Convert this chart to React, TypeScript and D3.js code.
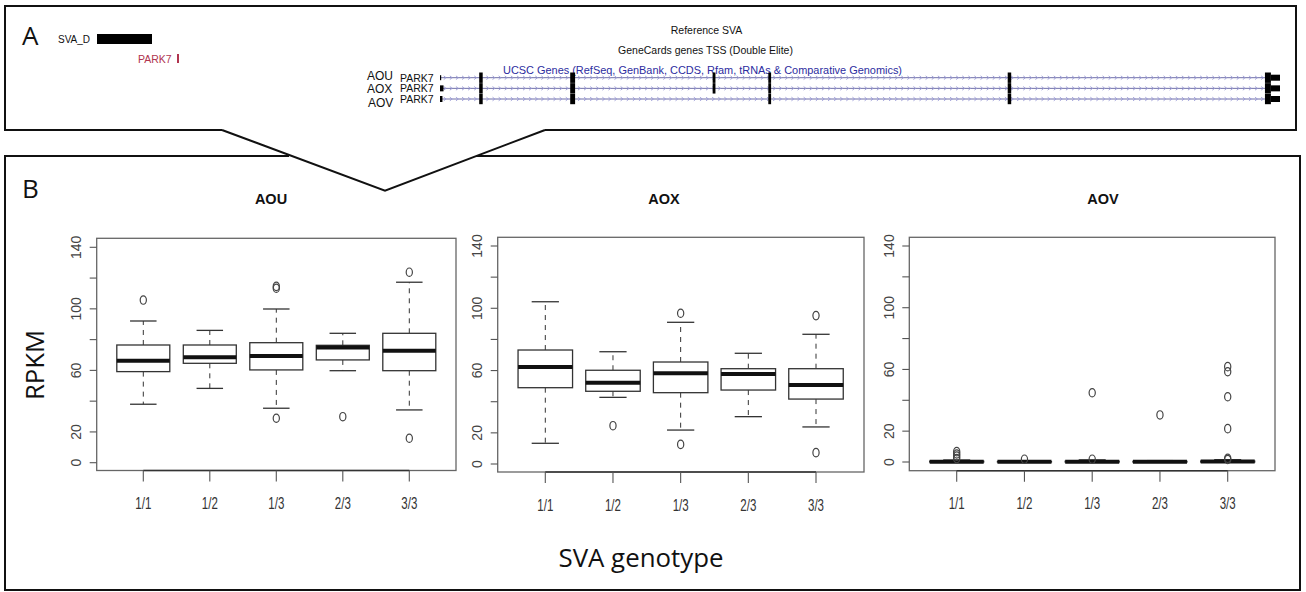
import React from "react";
import * as d3 from "d3";

// ---------- Data ----------
const genotypes = ["1/1", "1/2", "1/3", "2/3", "3/3"];
const yTickValues = [0, 20, 40, 60, 80, 100, 120, 140];
const yTickLabels = ["0", "20", "", "60", "", "100", "", "140"];
const panelNames = ["AOU", "AOX", "AOV"];

// [lower whisker, Q1, median, Q3, upper whisker]
const aouStats = [
  [38, 59.2, 66.3, 76.5, 92.1],
  [48.3, 64.6, 68.5, 76.5, 86],
  [35.4, 60.3, 69.4, 78, 99.9],
  [59.8, 66.8, 74.8, 76.3, 84.1],
  [34.3, 59.8, 72.8, 84.1, 117.3],
];
const aouOutliers = [[105.7], [], [113.4, 114.6, 28.9], [29.9], [123.8, 15.9]];

const aoxStats = [
  [13.3, 49, 62.3, 73.2, 104.2],
  [42.8, 46.7, 52.2, 60.2, 72.1],
  [21.8, 45.8, 58.2, 65.5, 91],
  [30.4, 47.5, 57.8, 61.2, 71.1],
  [23.8, 41.7, 50.7, 61.2, 83.3],
];
const aoxOutliers = [[], [24.6], [96.8, 12.6], [], [95.3, 7.3]];

const aovStats = [
  [0, 0, 0.2, 0.5, 1.3],
  [0, 0, 0.1, 0.3, 0.6],
  [0, 0, 0.2, 0.5, 1.4],
  [0, 0, 0.2, 0.4, 0.9],
  [0, 0, 0.3, 0.6, 1.5],
];
const aovOutliers = [
  [6.7, 5.2, 3.8, 2.2],
  [1.8],
  [44.9, 1.8],
  [30.5],
  [61.8, 58.5, 42.3, 21.6, 2.4, 1.6],
];

// Gene track (positions in kb along PARK7)
const geneLengthKb = 24;
const transcriptNames = ["AOU", "AOX", "AOV"];
// [startKb, endKb, kind]
const aouExons = [[0, 0.03, 2], [1.12, 1.22, 1], [3.72, 3.86, 1], [7.79, 7.87, 1], [9.38, 9.46, 1], [16.22, 16.32, 1], [23.57, 23.74, 1], [23.74, 24, 0]];
const aoxExons = [[0, 0.1, 0], [1.12, 1.22, 1], [3.72, 3.86, 1], [7.79, 7.87, 1], [9.38, 9.46, 1], [16.22, 16.32, 1], [23.57, 23.74, 1], [23.74, 24, 0]];
const aovExons = [[0, 0.07, 0], [1.12, 1.22, 1], [3.72, 3.86, 1], [9.38, 9.46, 1], [16.22, 16.32, 1], [23.57, 23.74, 1], [23.74, 24, 0]];

// ---------- Layout ----------
const W = 1306;
const H = 592;

const panels = [
  { name: panelNames[0], stats: aouStats, outliers: aouOutliers, left: 96.7, right: 456, top: 238.3, bottom: 470.5, y0: 462.7, y140: 247.3, x0: 143.3, x1: 409.3, titleX: 271, labelX: 76, boxW: 53 },
  { name: panelNames[1], stats: aoxStats, outliers: aoxOutliers, left: 497.7, right: 864, top: 237.3, bottom: 472, y0: 464, y140: 246, x0: 545.3, x1: 816, titleX: 664, labelX: 476.7, boxW: 54.5 },
  { name: panelNames[2], stats: aovStats, outliers: aovOutliers, left: 909.3, right: 1275, top: 237.3, bottom: 470.7, y0: 462, y140: 246, x0: 956.7, x1: 1227.7, titleX: 1103, labelX: 889.3, boxW: 54 },
];

const RFONT = "'Liberation Sans', Arial, Helvetica, sans-serif";
const CFONT = "'Open Sans', 'Noto Sans', sans-serif";

function BoxPanel({ p }: { p: (typeof panels)[number] }) {
  const y = d3.scaleLinear().domain([0, 140]).range([p.y0, p.y140]);
  const x = d3.scalePoint<string>().domain(genotypes).range([p.x0, p.x1]);
  const ink = "#333";
  return (
    <g>
      <text x={p.titleX} y={204} textAnchor="middle" fontFamily={RFONT} fontWeight="bold" fontSize={14.5} fill="#111">
        {p.name}
      </text>
      <rect x={p.left} y={p.top} width={p.right - p.left} height={p.bottom - p.top} fill="none" stroke="#666" strokeWidth={1.3} />
      {yTickValues.map((v, i) => (
        <g key={v}>
          <line x1={p.left - 7} x2={p.left} y1={y(v)} y2={y(v)} stroke="#555" strokeWidth={1.1} />
          {yTickLabels[i] && (
            <text
              transform={`translate(${p.labelX + 5},${y(v)}) rotate(-90)`}
              textAnchor="middle"
              fontFamily={RFONT}
              fontSize={14}
              fill="#444"
            >
              {yTickLabels[i]}
            </text>
          )}
        </g>
      ))}
      <line x1={p.x0} x2={p.x1} y1={p.bottom} y2={p.bottom} stroke="#333" strokeWidth={1.4} />
      {genotypes.map((g) => (
        <g key={g}>
          <line x1={x(g)} x2={x(g)} y1={p.bottom} y2={p.bottom + 11} stroke="#555" strokeWidth={1.1} />
          <text x={x(g)} y={p.bottom + 38.5} textAnchor="middle" fontFamily={RFONT} fontSize={16} fill="#333" textLength={16} lengthAdjust="spacingAndGlyphs">
            {g}
          </text>
        </g>
      ))}
      {genotypes.map((g, i) => {
        const [lo, q1, med, q3, hi] = p.stats[i];
        const cx = x(g) as number;
        const w = p.boxW;
        return (
          <g key={g}>
            <line x1={cx} x2={cx} y1={y(q3)} y2={y(hi)} stroke={ink} strokeWidth={1} strokeDasharray="5,5" />
            <line x1={cx} x2={cx} y1={y(q1)} y2={y(lo)} stroke={ink} strokeWidth={1} strokeDasharray="5,5" />
            <line x1={cx - w / 4} x2={cx + w / 4} y1={y(hi)} y2={y(hi)} stroke={ink} strokeWidth={1.3} />
            <line x1={cx - w / 4} x2={cx + w / 4} y1={y(lo)} y2={y(lo)} stroke={ink} strokeWidth={1.3} />
            <rect x={cx - w / 2} y={y(q3)} width={w} height={y(q1) - y(q3)} fill="white" stroke={ink} strokeWidth={1.3} />
            <line x1={cx - w / 2} x2={cx + w / 2} y1={y(med)} y2={y(med)} stroke="#111" strokeWidth={4} />
            {p.outliers[i].map((o, k) => (
              <ellipse key={k} cx={cx} cy={y(o)} rx={3.1} ry={4.2} fill="none" stroke="#444" strokeWidth={1.2} />
            ))}
          </g>
        );
      })}
    </g>
  );
}

function GeneTrack() {
  const gx = d3.scaleLinear().domain([0, geneLengthKb]).range([440, 1280]);
  const rowY = d3.scalePoint<string>().domain(transcriptNames).range([77.7, 99]);
  const exonSets = [aouExons, aoxExons, aovExons];
  const lineEnd = gx(23.57);
  const chevrons = d3.range(gx(0.15), lineEnd - 2, 6.1);
  return (
    <g>
      {transcriptNames.map((t, r) => {
        const yy = rowY(t) as number;
        return (
          <g key={t}>
            <line x1={gx(0)} x2={lineEnd} y1={yy} y2={yy} stroke="#6f6fa8" strokeWidth={1} />
            {chevrons.map((cx, k) => (
              <path key={k} d={`M${cx - 1.5},${yy - 1.8} L${cx + 0.8},${yy} L${cx - 1.5},${yy + 1.8}`} fill="none" stroke="#9a9ad6" strokeWidth={0.9} />
            ))}
            {exonSets[r].map((e, k) => {
              const half = e[2] === 1 ? 5.2 : e[2] === 2 ? 2.5 : 3;
              return (
                <rect key={k} x={gx(e[0])} y={yy - half} width={Math.max(1.2, gx(e[1]) - gx(e[0]))} height={half * 2} fill="#000" />
              );
            })}
            <text x={400} y={yy + 4} fontFamily={RFONT} fontSize={10.5} fill="#111">PARK7</text>
          </g>
        );
      })}
      <text x={367} y={80} fontFamily={RFONT} fontSize={12} fill="#111">AOU</text>
      <text x={367} y={92.5} fontFamily={RFONT} fontSize={12} fill="#111">AOX</text>
      <text x={368} y={107} fontFamily={RFONT} fontSize={12} fill="#111">AOV</text>
    </g>
  );
}

export default function App() {
  return (
    <svg width={W} height={H} style={{ position: "absolute", left: 0, top: 0, background: "white" }}>
      <rect x={0} y={0} width={W} height={H} fill="white" />
      <path d="M222,130 L5,130 L5,6 L1296,6 L1296,130 L545,130" fill="none" stroke="#111" strokeWidth={2} />
      <path d="M222,130 L385,190.7 L545,130" fill="none" stroke="#111" strokeWidth={2} />
      <path d="M289,156 L5,156 L5,590 L1300,590 L1300,156 L476,156" fill="none" stroke="#111" strokeWidth={2} />

      <text x={22} y={45} fontFamily={CFONT} fontSize={26} fill="#111">A</text>
      <text x={58} y={43} fontFamily={RFONT} fontSize={10} fill="#111">SVA_D</text>
      <rect x={97} y={34} width={55} height={10} fill="#000" />
      <text x={138} y={63} fontFamily={RFONT} fontSize={10.5} fill="#b0344f">PARK7</text>
      <rect x={177} y={54} width={2} height={9} fill="#b0344f" />
      <text x={706.5} y={34} textAnchor="middle" fontFamily={RFONT} fontSize={10.5} fill="#111">Reference SVA</text>
      <text x={705.5} y={54} textAnchor="middle" fontFamily={RFONT} fontSize={10.5} fill="#111">GeneCards genes TSS (Double Elite)</text>
      <text x={503} y={74} fontFamily={RFONT} fontSize={10.5} fill="#2c2ca0" textLength={399} lengthAdjust="spacingAndGlyphs">
        UCSC Genes (RefSeq, GenBank, CCDS, Rfam, tRNAs &amp; Comparative Genomics)
      </text>
      <GeneTrack />

      <text x={22} y={198} fontFamily={CFONT} fontSize={26} fill="#111">B</text>
      <text transform="translate(44,365) rotate(-90)" textAnchor="middle" fontFamily={CFONT} fontSize={26} fill="#111" textLength={70} lengthAdjust="spacingAndGlyphs">
        RPKM
      </text>
      <text x={641} y={567} textAnchor="middle" fontFamily={CFONT} fontSize={25} fill="#111" textLength={165} lengthAdjust="spacingAndGlyphs">
        SVA genotype
      </text>
      {panels.map((p) => (
        <BoxPanel key={p.name} p={p} />
      ))}
    </svg>
  );
}
